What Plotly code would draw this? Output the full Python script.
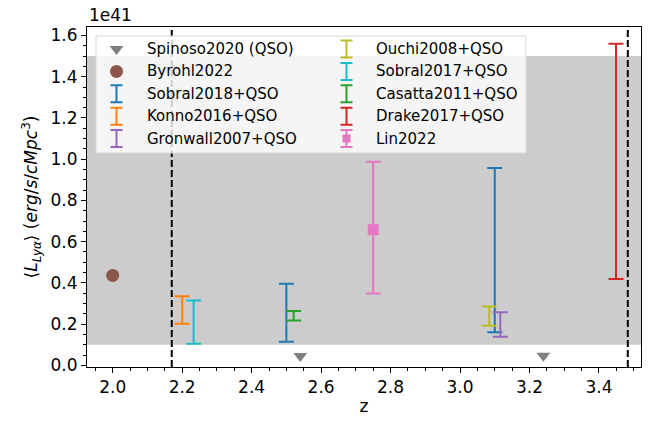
import plotly.graph_objects as go

# values in units of 1e41 erg/s/cMpc^3
spinoso_z = [2.54, 3.24]
spinoso_L = [0.045, 0.047]

byrohl_z = [2.0]
byrohl_L = [0.436]

# (name, colour, z, lower, upper)
err_names = ["Sobral2018+QSO", "Konno2016+QSO", "Gronwall2007+QSO", "Ouchi2008+QSO",
             "Sobral2017+QSO", "Casatta2011+QSO", "Drake2017+QSO"]
err_colors = ["#1f77b4", "#ff7f0e", "#9467bd", "#bcbd22", "#17becf", "#2ca02c", "#d62728"]
err_z = [[2.5, 3.1], [2.2], [3.116], [3.084], [2.233], [2.521], [3.449]]
err_lo = [[0.115, 0.160], [0.202], [0.139], [0.192], [0.105], [0.218], [0.419]]
err_hi = [[0.396, 0.957], [0.335], [0.257], [0.286], [0.315], [0.264], [1.560]]

lin_z = [2.75]
lin_L = [0.658]
lin_lo = [0.348]
lin_hi = [0.988]

band = [0.1, 1.5]
zlim_lines = [2.17, 3.483]

FONT = "DejaVu Sans"

fig = go.Figure()

fig.add_trace(go.Scatter(x=spinoso_z, y=spinoso_L, mode="markers",
                         marker=dict(symbol="triangle-down", size=12, color="#7f7f7f"),
                         name="Spinoso2020 (QSO)", hoverinfo="skip"))
fig.add_trace(go.Scatter(x=byrohl_z, y=byrohl_L, mode="markers",
                         marker=dict(symbol="circle", size=13, color="#8c564b"),
                         name="Byrohl2022", hoverinfo="skip"))

for name, col, zz, lo, hi in zip(err_names, err_colors, err_z, err_lo, err_hi):
    mid = [(a + b) / 2 for a, b in zip(lo, hi)]
    half = [(b - a) / 2 for a, b in zip(lo, hi)]
    fig.add_trace(go.Scatter(x=zz, y=mid, mode="markers", name=name,
                             marker=dict(size=1, color=col, opacity=0),
                             error_y=dict(type="data", array=half, symmetric=True,
                                          color=col, thickness=2, width=7.5),
                             hoverinfo="skip"))

fig.add_trace(go.Scatter(x=lin_z, y=lin_L, mode="markers", name="Lin2022",
                         marker=dict(symbol="square", size=11, color="#e377c2"),
                         error_y=dict(type="data",
                                      array=[h - c for h, c in zip(lin_hi, lin_L)],
                                      arrayminus=[c - l for c, l in zip(lin_L, lin_lo)],
                                      color="#e377c2", thickness=2, width=7.5),
                         hoverinfo="skip"))

# hand-made legend on a pixel overlay axis (two columns, matplotlib style)
leg_col1 = ["Spinoso2020 (QSO)", "Byrohl2022", "Sobral2018+QSO", "Konno2016+QSO", "Gronwall2007+QSO"]
leg_col2 = ["Ouchi2008+QSO", "Sobral2017+QSO", "Casatta2011+QSO", "Drake2017+QSO", "Lin2022"]
row_y = [49 + 22.4 * i for i in range(5)]
glyph_x = [116.5, 346.5]
text_x = [145, 374]

shapes = [
    dict(type="rect", xref="paper", yref="y", x0=0, x1=1, y0=band[0], y1=band[1],
         fillcolor="#cccccc", line=dict(width=0), layer="below"),
]
for zl in zlim_lines:
    shapes.append(dict(type="line", xref="x", yref="paper", x0=zl, x1=zl, y0=0, y1=1,
                       line=dict(color="black", width=2, dash="7px,3px"), layer="below"))
shapes.append(dict(type="rect", xref="x2", yref="y2", x0=96, x1=526, y0=36, y1=153,
                   fillcolor="rgba(255,255,255,0.8)", line=dict(color="#d9d9d9", width=1),
                   layer="below"))

annotations = []
for ci, col_names in enumerate([leg_col1, leg_col2]):
    for ri, nm in enumerate(col_names):
        annotations.append(dict(xref="x2", yref="y2", x=text_x[ci], y=row_y[ri], text=nm,
                                showarrow=False, xanchor="left", yanchor="middle",
                                font=dict(family=FONT, size=15, color="black")))

leg_style = {"Spinoso2020 (QSO)": ("#7f7f7f", "triangle-down", 12, False),
             "Byrohl2022": ("#8c564b", "circle", 13, False),
             "Lin2022": ("#e377c2", "square", 8, True)}
for nm, col in zip(err_names, err_colors):
    leg_style[nm] = (col, "circle", 1, True)

for ci, col_names in enumerate([leg_col1, leg_col2]):
    for ri, nm in enumerate(col_names):
        col, sym, sz, has_err = leg_style[nm]
        tr = dict(x=[glyph_x[ci]], y=[row_y[ri]], mode="markers", xaxis="x2", yaxis="y2",
                  marker=dict(symbol=sym, size=sz, color=col, opacity=1 if sz > 1 else 0),
                  showlegend=False, hoverinfo="skip")
        if has_err:
            tr["error_y"] = dict(type="data", array=[8.5], symmetric=True, color=col,
                                 thickness=2, width=6)
        fig.add_trace(go.Scatter(**tr))

# offset text of the y axis, with a compact box so it stays inside the figure
annotations.append(dict(xref="paper", yref="paper", x=0, y=1, text="1e41", showarrow=False,
                        xanchor="left", yanchor="bottom", yshift=2, height=17,
                        font=dict(family=FONT, size=17, color="black")))

axis_common = dict(showline=True, linecolor="black", linewidth=1.1, mirror=True,
                   ticks="outside", ticklen=5, tickwidth=1.1, tickcolor="black",
                   showgrid=False, zeroline=False, automargin=False,
                   tickfont=dict(family=FONT, size=17, color="black"))

# the page body adds an 8px offset, so the figure is 8px smaller than the window
fig.update_layout(
    width=646, height=413,
    margin=dict(l=79, r=13, t=19, b=54),
    paper_bgcolor="white", plot_bgcolor="white",
    showlegend=False,
    shapes=shapes, annotations=annotations,
    xaxis=dict(range=[1.926, 3.521], tick0=0, dtick=0.2, tickformat=".1f",
               minor=dict(ticks="outside", ticklen=3, tickwidth=1, tickcolor="black",
                          tick0=0, dtick=0.05),
               title=dict(text="z", font=dict(family=FONT, size=17, color="black"),
                          standoff=3),
               **axis_common),
    yaxis=dict(range=[-0.008, 1.641], tick0=0, dtick=0.2, tickformat=".1f",
               minor=dict(ticks="outside", ticklen=3, tickwidth=1, tickcolor="black",
                          tick0=0, dtick=0.05),
               title=dict(text="⟨<i>L</i><sub><i>Lyα</i></sub>⟩ (<i>erg</i>/<i>s</i>/<i>cMpc</i><sup>3</sup>)",
                          font=dict(family=FONT, size=17, color="black"), standoff=8),
               **axis_common),
    xaxis2=dict(overlaying="x", range=[87, 641], visible=False, fixedrange=True),
    yaxis2=dict(overlaying="y", range=[367, 27], visible=False, fixedrange=True),
)

fig.write_html("out.html")
